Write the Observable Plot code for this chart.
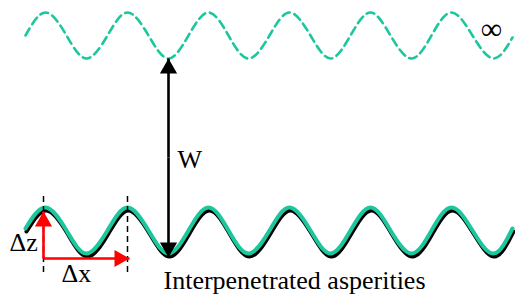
<!DOCTYPE html>
<html>
<head>
<meta charset="utf-8">
<script src="https://cdn.jsdelivr.net/npm/d3@7"></script>
<script src="https://cdn.jsdelivr.net/npm/@observablehq/plot@0.6"></script>
<style>
  html, body { margin: 0; padding: 0; background: #fff; }
  #chart svg { display: block; }
</style>
</head>
<body>
<div id="chart"></div>
<script>
// Wave sample positions (extrema and mid crossings), diagram units
const waveX    = [25, 45, 66, 86, 107, 127, 148, 168, 188, 208, 228, 248, 269, 289, 310, 330, 350, 370, 390, 411, 431, 451, 472, 493, 512];
const topY     = [35, 12, 35, 58, 35, 12, 35, 58, 35, 12, 35, 58, 35, 12, 35, 58, 35, 12, 35, 58, 35, 12, 35, 58, 37];
const bottomY  = [228, 207, 230, 253, 230, 207, 230, 253, 230, 207, 230, 253, 230, 207, 230, 253, 230, 207, 230, 253, 230, 207, 230, 253, 228];

// Arrows: tail -> tip
const arrowNames = ["W-up", "W-down", "dz", "dx"];
const arrowX1 = [168, 168, 43, 43];
const arrowY1 = [157, 157, 258, 258];
const arrowX2 = [168, 168, 43, 129];
const arrowY2 = [58, 257, 211, 258];
const arrowColor = ["black", "black", "red", "red"];

// Dashed guide lines
const guideX = [43, 127];
const guideY1 = [196, 196];
const guideY2 = [274, 274];

// Labels
const labelText = ["W", "Δz", "Δx", "Interpenetrated asperities"];
const labelX = [177, 9, 61, 163];
const labelY = [167, 250, 281, 288];

const infinityLabel = "∞";
const infinityX = 491;
const infinityY = 29;

const topWave = waveX.map((x, i) => ({x, y: topY[i]}));
const bottomWave = waveX.map((x, i) => ({x, y: bottomY[i]}));
const arrows = arrowNames.map((name, i) => ({
  name, x1: arrowX1[i], y1: arrowY1[i], x2: arrowX2[i], y2: arrowY2[i], color: arrowColor[i]
}));
// arrowhead: triangle centroid sits 10 units behind the tip along the arrow direction
const heads = arrows.map(a => {
  const dx = a.x2 - a.x1, dy = a.y2 - a.y1;
  const len = Math.hypot(dx, dy);
  const ux = dx / len, uy = dy / len;
  const rot = Math.atan2(ux, -uy) * 180 / Math.PI;
  return {x: a.x2 - ux * 10, y: a.y2 - uy * 10, rot, color: a.color};
});
const guides = guideX.map((x, i) => ({x, y1: guideY1[i], y2: guideY2[i]}));
const labels = labelText.map((t, i) => ({t, x: labelX[i], y: labelY[i]}));

const teal = "#1cc79d";

const chart = Plot.plot({
  width: 515,
  height: 298,
  margin: 0,
  x: {domain: [0, 515], range: [0, 515], axis: null},
  y: {domain: [0, 298], range: [0, 298], axis: null},
  style: {background: "white"},
  marks: [
    Plot.line(topWave, {x: "x", y: "y", curve: "natural", stroke: teal, strokeWidth: 2.6, strokeDasharray: "8,5"}),
    Plot.line(bottomWave, {x: "x", y: "y", curve: "natural", stroke: "black", strokeWidth: 4, dx: 1, dy: 3}),
    Plot.line(bottomWave, {x: "x", y: "y", curve: "natural", stroke: teal, strokeWidth: 4}),
    Plot.ruleX(guides, {x: "x", y1: "y1", y2: "y2", stroke: "black", strokeWidth: 1.5, strokeDasharray: "6,4"}),
    Plot.link(arrows, {x1: "x1", y1: "y1", x2: "x2", y2: "y2", stroke: "color", strokeWidth: 2.6}),
    Plot.dot(heads, {x: "x", y: "y", symbol: "triangle", r: 6.4, fill: "color", stroke: "none", rotate: "rot"}),
    Plot.text(labels, {x: "x", y: "y", text: "t", textAnchor: "start", lineAnchor: "bottom", fontSize: 26, fontFamily: "Liberation Serif", fill: "black"}),
    Plot.text([infinityLabel], {x: infinityX, y: infinityY, text: d => d, textAnchor: "middle", lineAnchor: "middle", fontSize: 30, fontFamily: "Liberation Serif", fill: "black"})
  ]
});
document.getElementById("chart").appendChild(chart);
</script>
</body>
</html>
